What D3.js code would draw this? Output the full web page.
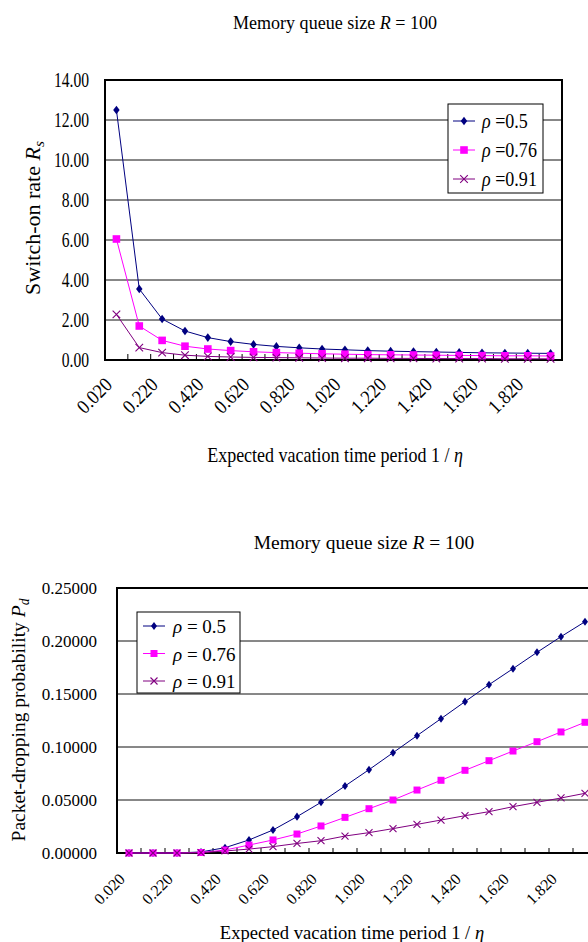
<!DOCTYPE html>
<html>
<head>
<meta charset="utf-8">
<script src="https://cdn.jsdelivr.net/npm/d3@7"></script>
<style>
  body { margin: 0; background: #fff; }
  svg { display: block; }
  text { font-family: "Liberation Serif", "Times New Roman", serif; fill: #000; }
</style>
</head>
<body>
<svg id="chart" width="588" height="942"></svg>
<script>
// Expected vacation time period 1/eta (category axis)
const categories = [0.02, 0.12, 0.22, 0.32, 0.42, 0.52, 0.62, 0.72, 0.82, 0.92,
                    1.02, 1.12, 1.22, 1.32, 1.42, 1.52, 1.62, 1.72, 1.82, 1.92];
const xTickLabels = ["0.020", "0.220", "0.420", "0.620", "0.820",
                     "1.020", "1.220", "1.420", "1.620", "1.820"];
const rhoLabels = ["0.5", "0.76", "0.91"];

// Switch-on rate R_s
const switchRateRho05  = [12.50, 3.55, 2.05, 1.45, 1.12, 0.92, 0.78, 0.68, 0.61, 0.55,
                          0.51, 0.47, 0.44, 0.42, 0.40, 0.38, 0.36, 0.35, 0.34, 0.33];
const switchRateRho076 = [6.05, 1.70, 0.98, 0.69, 0.55, 0.47, 0.41, 0.37, 0.34, 0.31,
                          0.29, 0.27, 0.26, 0.25, 0.24, 0.23, 0.22, 0.21, 0.21, 0.20];
const switchRateRho091 = [2.28, 0.62, 0.37, 0.24, 0.18, 0.15, 0.13, 0.12, 0.11, 0.10,
                          0.09, 0.09, 0.08, 0.08, 0.07, 0.07, 0.07, 0.06, 0.06, 0.06];
const switchRateTicks = [0, 2, 4, 6, 8, 10, 12, 14];

// Packet-dropping probability P_d
const dropProbRho05  = [0.0000, 0.0000, 0.0000, 0.0010, 0.0050, 0.0123, 0.0217, 0.0343, 0.0478, 0.0632,
                        0.0786, 0.0946, 0.1107, 0.1267, 0.1428, 0.1588, 0.1739, 0.1893, 0.2041, 0.2182];
const dropProbRho076 = [0.0000, 0.0000, 0.0000, 0.0005, 0.0028, 0.0075, 0.0123, 0.0179, 0.0255, 0.0336,
                        0.0418, 0.0500, 0.0594, 0.0686, 0.0780, 0.0871, 0.0962, 0.1050, 0.1142, 0.1233];
const dropProbRho091 = [0.0000, 0.0000, 0.0000, 0.0003, 0.0019, 0.0037, 0.0060, 0.0090, 0.0116, 0.0160,
                        0.0192, 0.0230, 0.0270, 0.0311, 0.0352, 0.0390, 0.0437, 0.0478, 0.0519, 0.0563];
const dropProbTicks = [0, 0.05, 0.10, 0.15, 0.20, 0.25];

const colors = ["#000080", "#ff00ff", "#800080"];
const shapes = ["diamond", "square", "cross"];
const serif = '"Liberation Serif", "Times New Roman", serif';

const svg = d3.select("#chart");

// text made of plain / italic / subscript runs, optionally squeezed horizontally
function richText(parent, x, y, parts, opts) {
  const g = parent.append("g")
    .attr("transform", `translate(${x},${y}) rotate(${opts.rotate || 0}) scale(${opts.sx || 1},1)`);
  const t = g.append("text")
    .attr("text-anchor", opts.anchor || "middle")
    .attr("font-family", serif)
    .style("font-size", opts.size + "px");
  parts.forEach(p => {
    const s = t.append("tspan").text(p.t);
    if (p.i) s.style("font-style", "italic");
    if (p.sub) s.style("font-size", (opts.size * 0.7) + "px").attr("dy", opts.size * 0.18);
  });
  return t;
}

function drawMarker(g, shape, color, size) {
  if (shape === "cross") {
    const s = size;
    g.append("path")
      .attr("d", `M${-s},${-s}L${s},${s}M${s},${-s}L${-s},${s}`)
      .attr("stroke", color).attr("stroke-width", 1.1).attr("fill", "none");
  } else if (shape === "square") {
    g.append("path")
      .attr("d", d3.symbol(d3.symbolSquare, (size * 2) * (size * 2))())
      .attr("fill", color);
  } else {
    g.append("path")
      .attr("d", `M0,${-size * 1.15}L${size * 0.85},0L0,${size * 1.15}L${-size * 0.85},0Z`)
      .attr("fill", color);
  }
}

function drawChart(cfg) {
  const x = d3.scaleBand().domain(categories).range([cfg.left, cfg.right]).padding(0);
  const y = d3.scaleLinear().domain(cfg.yDomain).range([cfg.bottom, cfg.top]);
  const g = svg.append("g");

  // horizontal gridlines
  g.append("g").selectAll("line")
    .data(cfg.yTicks.slice(1, -1))
    .join("line")
    .attr("x1", cfg.left).attr("x2", cfg.right)
    .attr("y1", d => y(d)).attr("y2", d => y(d))
    .attr("stroke", "#111").attr("stroke-width", 1);

  // plot frame
  g.append("rect")
    .attr("x", cfg.left).attr("y", cfg.top)
    .attr("width", cfg.right - cfg.left).attr("height", cfg.bottom - cfg.top)
    .attr("fill", "none").attr("stroke", "#000").attr("stroke-width", 2);

  // category separators on the x axis, pointing into the plot
  g.append("g").selectAll("line")
    .data(categories.slice(1))
    .join("line")
    .attr("x1", d => x(d)).attr("x2", d => x(d))
    .attr("y1", cfg.bottom).attr("y2", cfg.bottom - cfg.tickLen)
    .attr("stroke", "#000").attr("stroke-width", 1);

  // y axis labels
  const yAxis = d3.axisLeft(y).tickValues(cfg.yTicks).tickFormat(d3.format(cfg.yFormat))
    .tickSize(0).tickPadding(cfg.yPad);
  const ya = g.append("g").attr("transform", `translate(${cfg.left},0)`).call(yAxis)
    .attr("font-family", serif);
  ya.select(".domain").remove();
  ya.selectAll("text")
    .style("font-family", serif)
    .style("font-size", cfg.yFontSize + "px")
    .attr("fill", "#000")
    .attr("transform", `translate(${-cfg.yPad},0) scale(${cfg.ySx},1) translate(${cfg.yPad},0)`);

  // x axis labels, rotated
  const labelCats = categories.filter((d, i) => i % 2 === 0);
  const xAxis = d3.axisBottom(x).tickValues(labelCats)
    .tickFormat((d, i) => xTickLabels[i]).tickSize(0);
  const xa = g.append("g").attr("transform", `translate(0,${cfg.bottom})`).call(xAxis)
    .attr("font-family", serif);
  xa.select(".domain").remove();
  xa.selectAll("text")
    .style("font-family", serif)
    .style("font-size", cfg.xFontSize + "px")
    .attr("fill", "#000")
    .attr("text-anchor", "end")
    .attr("y", 0).attr("dy", 0)
    .attr("transform", `translate(${cfg.xLabDx},${cfg.xLabDy}) rotate(-45) scale(${cfg.xSx},1)`);

  // series
  const line = d3.line().x((d, i) => x(categories[i]) + x.bandwidth() / 2).y(d => y(d));
  cfg.series.forEach((vals, s) => {
    g.append("path").datum(vals)
      .attr("d", line).attr("fill", "none")
      .attr("stroke", colors[s]).attr("stroke-width", 1);
  });
  cfg.series.forEach((vals, s) => {
    vals.forEach((v, i) => {
      const m = g.append("g")
        .attr("transform", `translate(${x(categories[i]) + x.bandwidth() / 2},${y(v)})`);
      drawMarker(m, shapes[s], colors[s], cfg.markerSize);
    });
  });

  // legend
  const L = cfg.legend;
  g.append("rect").attr("x", L.x).attr("y", L.y).attr("width", L.w).attr("height", L.h)
    .attr("fill", "#fff").attr("stroke", "#000").attr("stroke-width", 1);
  rhoLabels.forEach((lab, s) => {
    const cy = L.y + L.first + s * L.step;
    g.append("line").attr("x1", L.x + L.lineX0).attr("x2", L.x + L.lineX1)
      .attr("y1", cy).attr("y2", cy).attr("stroke", colors[s]).attr("stroke-width", 1);
    const m = g.append("g").attr("transform", `translate(${L.x + (L.lineX0 + L.lineX1) / 2},${cy})`);
    drawMarker(m, shapes[s], colors[s], cfg.markerSize);
    richText(g, L.x + L.textX, cy + L.textDy,
      [{ t: "\u03c1", i: true }, { t: L.sep + lab }],
      { size: L.fontSize, anchor: "start", sx: L.sx });
  });

  // titles
  richText(g, cfg.title.x, cfg.title.y,
    [{ t: "Memory queue size " }, { t: "R", i: true }, { t: " = 100" }],
    { size: cfg.title.size, sx: cfg.title.sx });
  richText(g, cfg.xTitle.x, cfg.xTitle.y,
    [{ t: "Expected vacation time period 1 / " }, { t: "\u03b7", i: true }],
    { size: cfg.xTitle.size, sx: cfg.xTitle.sx });
  richText(g, cfg.yTitle.x, cfg.yTitle.y, cfg.yTitle.parts,
    { size: cfg.yTitle.size, sx: cfg.yTitle.sx, rotate: -90 });
}

drawChart({
  left: 105, right: 562, top: 80, bottom: 360,
  yDomain: [0, 14], yTicks: switchRateTicks, yFormat: ".2f",
  yPad: 16, yFontSize: 20, ySx: 0.78,
  xFontSize: 20, xSx: 0.9, xLabDx: -3, xLabDy: 26,
  tickLen: 6, markerSize: 3.8,
  series: [switchRateRho05, switchRateRho076, switchRateRho091],
  legend: { x: 448, y: 104, w: 95, h: 89, first: 17, step: 29, lineX0: 5, lineX1: 27,
            textX: 34, textDy: 7, fontSize: 22, sx: 0.82, sep: " =" },
  title: { x: 335, y: 29, size: 19, sx: 0.95 },
  xTitle: { x: 335, y: 462, size: 20, sx: 0.9 },
  yTitle: { x: 40, y: 218, size: 22, sx: 1,
            parts: [{ t: "Switch-on rate " }, { t: "R", i: true }, { t: "s", i: true, sub: true }] }
});

drawChart({
  left: 117, right: 597, top: 588, bottom: 853,
  yDomain: [0, 0.25], yTicks: dropProbTicks, yFormat: ".5f",
  yPad: 20, yFontSize: 17, ySx: 1,
  xFontSize: 16, xSx: 1, xLabDx: -3, xLabDy: 27,
  tickLen: 5, markerSize: 3.5,
  series: [dropProbRho05, dropProbRho076, dropProbRho091],
  legend: { x: 137, y: 612, w: 103, h: 81, first: 14, step: 27.5, lineX0: 6, lineX1: 28,
            textX: 36, textDy: 7, fontSize: 19, sx: 1, sep: "  = " },
  title: { x: 364, y: 549, size: 19.5, sx: 1 },
  xTitle: { x: 352, y: 939, size: 18.6, sx: 1 },
  yTitle: { x: 25, y: 720, size: 19.5, sx: 1,
            parts: [{ t: "Packet-dropping probability " }, { t: "P", i: true }, { t: "d", i: true, sub: true }] }
});
</script>
</body>
</html>
